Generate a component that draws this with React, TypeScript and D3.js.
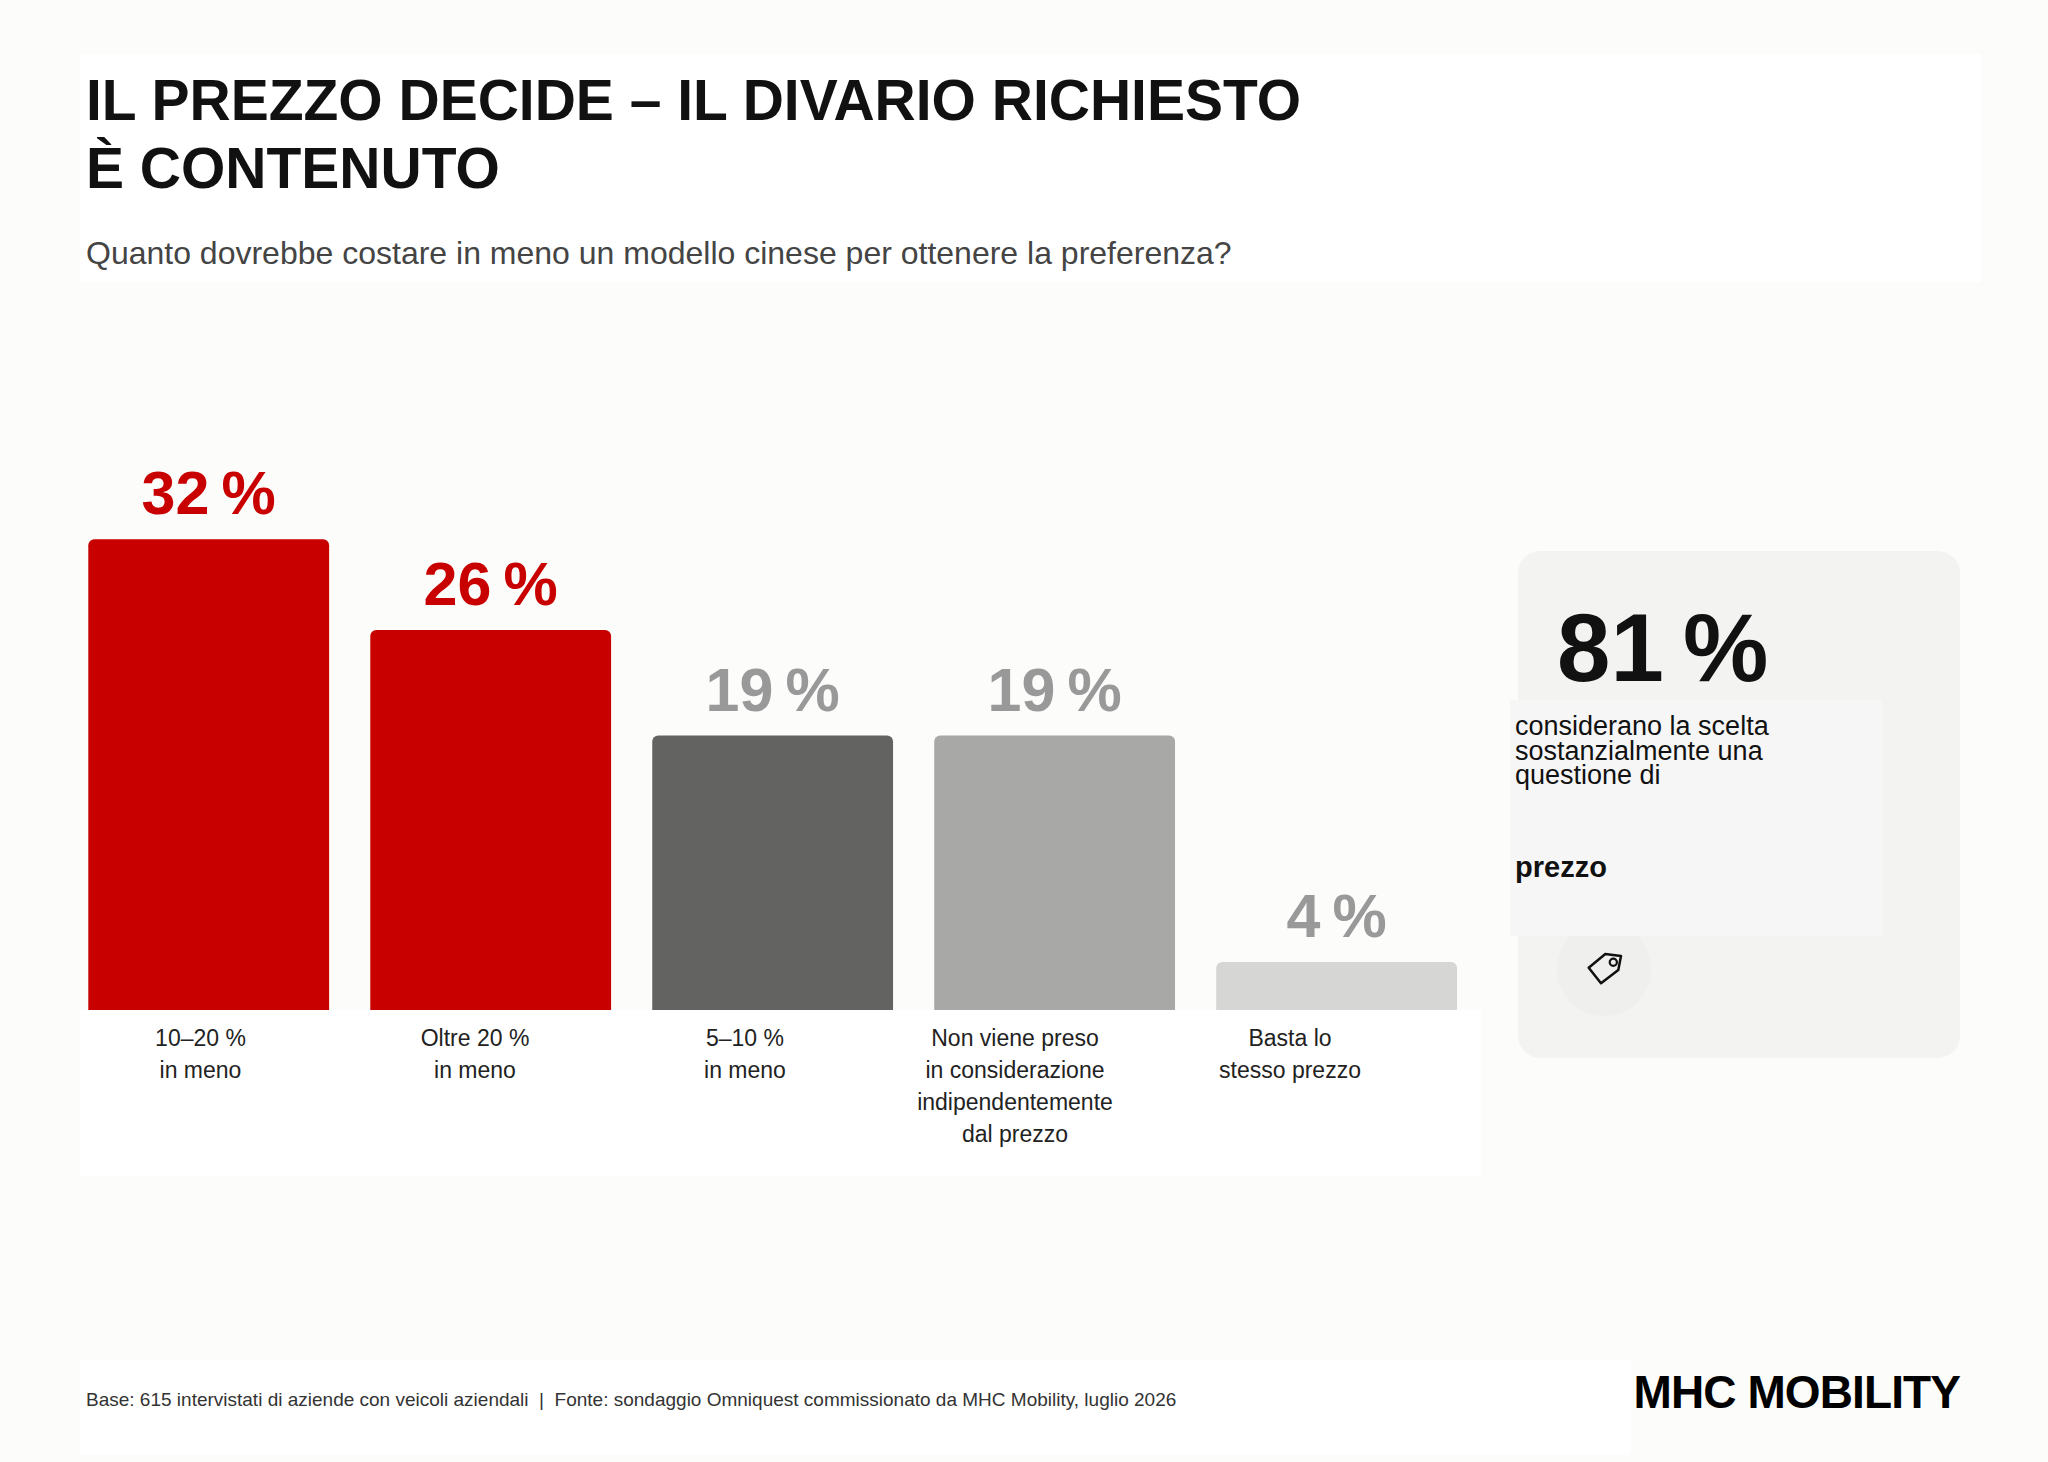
import React from 'react';
import * as d3 from 'd3';

const categories = ['10-20', 'oltre20', '5-10', 'nonPreso', 'stesso'];
const values = [32, 26, 19, 19, 4];
const valueLabels = ['32\u202f%', '26\u202f%', '19\u202f%', '19\u202f%', '4\u202f%'];
const barColors = ['#c90000', '#c90000', '#636361', '#a8a8a6', '#d6d6d4'];
const valueColors = ['#c90000', '#c90000', '#999999', '#999999', '#999999'];
const categoryLabels = [
  ['10–20 %', 'in meno'],
  ['Oltre 20 %', 'in meno'],
  ['5–10 %', 'in meno'],
  ['Non viene preso', 'in considerazione', 'indipendentemente', 'dal prezzo'],
  ['Basta lo', 'stesso prezzo'],
];
const titleLines = ['IL PREZZO DECIDE – IL DIVARIO RICHIESTO', 'È CONTENUTO'];
const subtitle = 'Quanto dovrebbe costare in meno un modello cinese per ottenere la preferenza?';
const calloutValue = '81\u202f%';
const calloutLines = ['considerano la scelta', 'sostanzialmente una', 'questione di'];
const calloutBold = 'prezzo';
const footer = 'Base: 615 intervistati di aziende con veicoli aziendali  |  Fonte: sondaggio Omniquest commissionato da MHC Mobility, luglio 2026';
const logo = 'MHC MOBILITY';

const WIDTH = 2048;
const HEIGHT = 1462;
const FONT = '"Liberation Sans", Arial, sans-serif';

const App: React.FC = () => {
  // the white label box sits on top of the bar feet, so the zero line is below it
  const x = d3.scaleBand().domain(categories).range([88.3, 1457]).paddingInner(0.146).paddingOuter(0);
  const y = d3.scaleLinear().domain([0, 32]).range([1022.4, 539.3]);
  // labels are not centred under their bars in the original
  const labelX = d3.scaleOrdinal<string, number>().domain(categories).range([200.5, 475, 745, 1015, 1290]);

  return (
    <svg
      width={WIDTH}
      height={HEIGHT}
      viewBox={`0 0 ${WIDTH} ${HEIGHT}`}
      style={{ position: 'absolute', left: 0, top: 0, display: 'block' }}
      fontFamily={FONT}
    >
      <rect width={WIDTH} height={HEIGHT} fill="#fcfcfa" />

      {/* Header */}
      <rect x={80} y={54} width={1901} height={228} fill="#ffffff" />
      {titleLines.map((line, i) => (
        <text key={line} x={86} y={120 + i * 68} fontSize={57} fontWeight={700} fill="#111111">
          {line}
        </text>
      ))}
      <text x={86} y={264} fontSize={32} fill="#444444">
        {subtitle}
      </text>

      {/* Bars */}
      {categories.map((c, i) => (
        <g key={c}>
          <rect
            x={x(c)}
            y={y(values[i])}
            width={x.bandwidth()}
            height={y(0) - y(values[i])}
            rx={6}
            fill={barColors[i]}
          />
          <text
            x={(x(c) || 0) + x.bandwidth() / 2}
            y={y(values[i]) - 25}
            textAnchor="middle"
            fontSize={61}
            fontWeight={700}
            fill={valueColors[i]}
          >
            {valueLabels[i]}
          </text>
        </g>
      ))}

      {/* Category labels */}
      <rect x={80} y={1010} width={1401} height={166} fill="#ffffff" />
      {categories.map((c, i) => (
        <text key={c} textAnchor="middle" fontSize={23} fill="#222222">
          {categoryLabels[i].map((line, j) => (
            <tspan key={line} x={labelX(c)} y={1046 + j * 32}>
              {line}
            </tspan>
          ))}
        </text>
      ))}

      {/* Callout card */}
      <rect x={1518} y={551} width={442} height={507} rx={22} fill="#f3f3f2" />
      <text x={1557} y={681} fontSize={96} fontWeight={700} fill="#111111">
        {calloutValue}
      </text>
      <g transform="translate(1604,969)">
        <circle r={47} fill="#efefee" />
        <path
          d="M-15.3 -1.3 L-3 14.3 L14.3 1 L17 -13 L1.3 -15 Z"
          fill="none"
          stroke="#111111"
          strokeWidth={2.5}
          strokeLinejoin="round"
        />
        <circle cx={9.3} cy={-6.7} r={3.6} fill="none" stroke="#111111" strokeWidth={2.2} />
      </g>
      <rect x={1510} y={700} width={372} height={236} fill="#f6f6f6" />
      {calloutLines.map((line, i) => (
        <text key={line} x={1515} y={735 + i * 24.7} fontSize={27} fill="#111111">
          {line}
        </text>
      ))}
      <text x={1515} y={877} fontSize={29} fontWeight={700} fill="#111111">
        {calloutBold}
      </text>

      {/* Footer */}
      <rect x={80} y={1360} width={1551} height={95} fill="#ffffff" />
      <text x={86} y={1406} fontSize={19} fill="#333333" style={{ whiteSpace: 'pre' }}>
        {footer}
      </text>
      <text x={1960} y={1408} textAnchor="end" fontSize={46} fontWeight={700} fill="#000000" letterSpacing={-0.9}>
        {logo}
      </text>
    </svg>
  );
};

export default App;
